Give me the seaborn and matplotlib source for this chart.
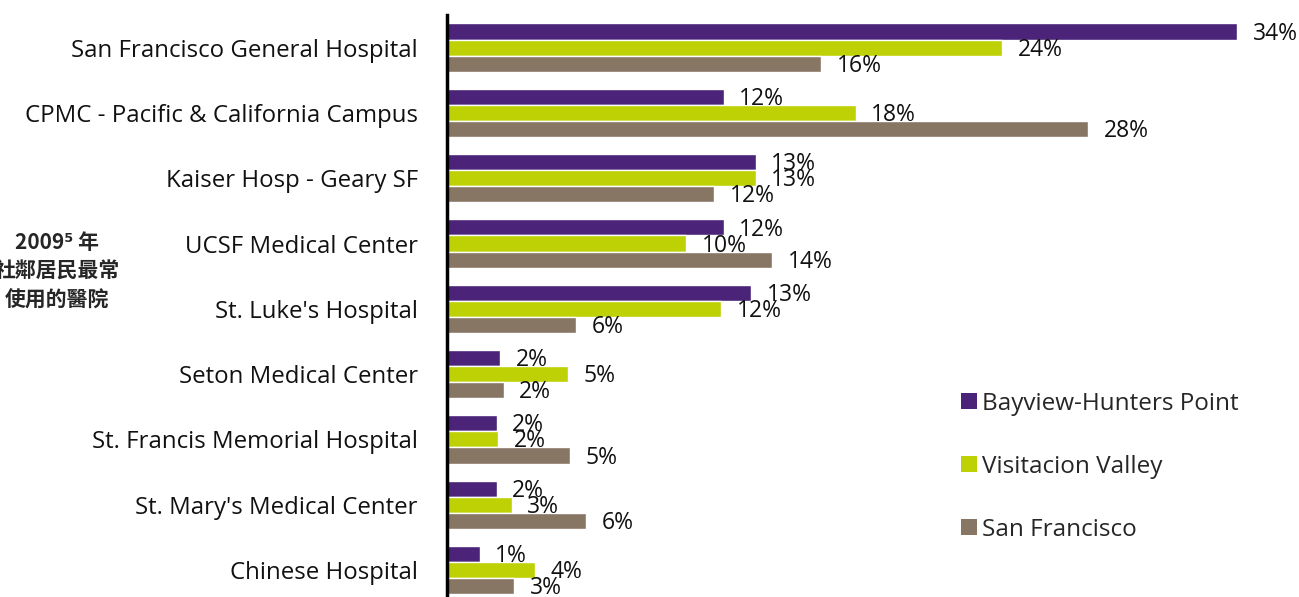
import matplotlib
matplotlib.use("Agg")
import matplotlib.pyplot as plt
import seaborn as sns
import pandas as pd
from matplotlib.patches import Patch
from matplotlib import font_manager

hospitals = ["San Francisco General Hospital", "CPMC - Pacific & California Campus",
             "Kaiser Hosp - Geary SF", "UCSF Medical Center", "St. Luke's Hospital",
             "Seton Medical Center", "St. Francis Memorial Hospital",
             "St. Mary's Medical Center", "Chinese Hospital"]
series = ["Bayview-Hunters Point", "Visitacion Valley", "San Francisco"]
bayview = [34.0, 11.9, 13.3, 11.9, 13.1, 2.3, 2.15, 2.15, 1.4]
visitacion = [23.9, 17.6, 13.3, 10.3, 11.8, 5.2, 2.2, 2.8, 3.8]
sanfran = [16.1, 27.6, 11.5, 14.0, 5.55, 2.45, 5.3, 5.98, 2.9]
colors = ["#4B2479", "#BDD105", "#887665"]

rows = []
for i, h in enumerate(hospitals):
    for s, vals in zip(series, [bayview, visitacion, sanfran]):
        rows.append({"hospital": h, "series": s, "value": vals[i]})
df = pd.DataFrame(rows)

sns.set_theme(style="white")
plt.rcParams['font.family'] = ['Open Sans', 'DejaVu Sans']

try:
    font_manager.findfont("Liberation Sans Narrow", fallback_to_default=False)
    narrow = "Liberation Sans Narrow"
    val_size = 18.5
except Exception:
    narrow = "Open Sans"
    val_size = 16.5

fig = plt.figure(figsize=(12.99, 5.97), dpi=100)
ax = fig.add_axes([447/1299, 0.0, 1 - 447/1299, 1 - 15/597])

sns.barplot(data=df, y="hospital", x="value", hue="series", palette=colors,
            orient="h", width=0.74, ax=ax, legend=False, saturation=1)

ax.set_xlim(0, (1299 - 447) / 23.24)
ax.set_ylim(8 + 27/65.3, -0.5)
ax.set_xlabel("")
ax.set_ylabel("")
ax.set_xticks([])
for sp in ["top", "right", "bottom"]:
    ax.spines[sp].set_visible(False)
ax.spines["left"].set_linewidth(2.5)
ax.spines["left"].set_color("black")
ax.tick_params(axis="y", length=0, pad=21, labelsize=17.3)
for lbl in ax.get_yticklabels():
    lbl.set_color("#111111")

for cont in ax.containers:
    for bar in cont:
        w = bar.get_width()
        y = bar.get_y() + bar.get_height() / 2
        ax.annotate(f"{round(w):d}%", (w, y), xytext=(11, -1.5), textcoords="offset points",
                    ha="left", va="center", fontsize=val_size, color="#111111",
                    family=[narrow, "DejaVu Sans"], annotation_clip=False)

handles = [Patch(facecolor=c, edgecolor="none") for c in colors]
leg = fig.legend(handles, series, loc="upper left", bbox_to_anchor=(939/1299, 1 - 370/597),
                 frameon=False, fontsize=17.5, handlelength=0.65, handleheight=0.65,
                 handletextpad=0.2, labelspacing=1.6)

fig.text(57/1299, 1 - 271/597, "2009⁵ 年\n社鄰居民最常\n使用的醫院", ha="center", va="center",
         fontsize=15, fontweight="bold", linespacing=1.45,
         family=["Noto Sans CJK TC", "DejaVu Sans"])

fig.savefig("out.png", dpi=100)
